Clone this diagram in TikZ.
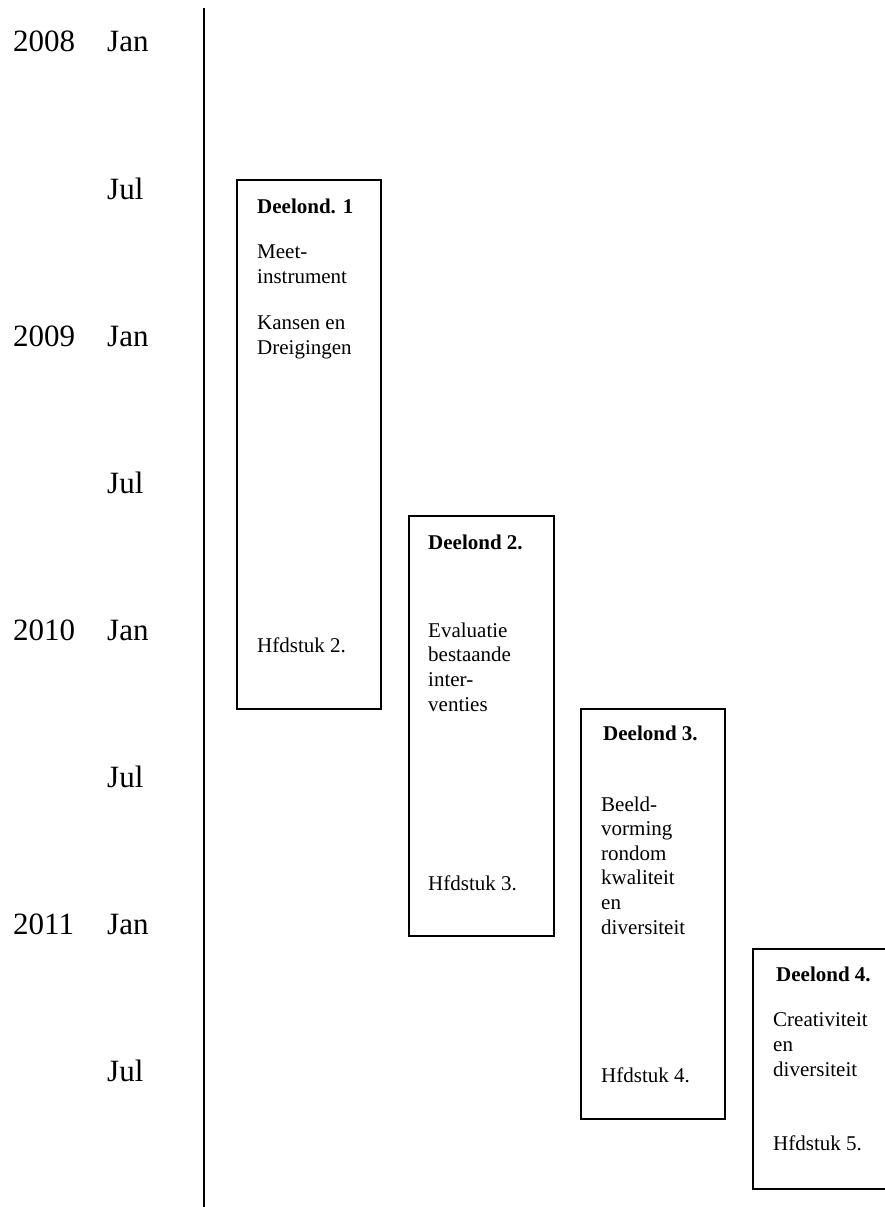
\documentclass[tikz,border=0pt]{standalone}
\usepackage{fontspec}
\setmainfont{Liberation Serif}
\usetikzlibrary{positioning}

\begin{document}
\begin{tikzpicture}[x=1pt, y=-1pt,
    yearlabel/.style={anchor=base west, inner sep=0pt, font=\fontsize{31}{36}\selectfont},
    phasebox/.style={draw, line width=1.7pt, anchor=north west, inner sep=0pt},
    phasetxt/.style={anchor=base west, inner sep=0pt, align=left, font=\fontsize{21}{24.6}\selectfont},
    phasehead/.style={phasetxt, font=\fontsize{21}{24.6}\selectfont\bfseries}]
    \useasboundingbox (0,0) rectangle (885,1207);

    % tijdas
    \coordinate (astop) at (204,8);
    \coordinate (asbot) at (204,1207);
    \draw[line width=1.7pt] (astop) -- (asbot);

    % jaren en maanden
    \foreach \yr/\mo [count=\i from 0] in {2008/Jan, /Jul, 2009/Jan, /Jul, 2010/Jan, /Jul, 2011/Jan, /Jul} {
        \node[yearlabel] (jaar\i) at (13,52+147*\i) {\yr};
        \node[yearlabel] (maand\i) at (107,52+147*\i) {\mo};
    }

    % deelonderzoek 1 (tekstblokken staan op de basislijn van hun laatste regel)
    \node[phasebox, minimum width=144pt, minimum height=529pt] (deel1) at (236,179) {};
    \node[phasehead] (kop1) at (257,213) {Deelond. 1};
    \node[phasetxt] (meet) at (257,283) {Meet-\\instrument};
    \node[phasetxt] (kansen) at (257,354) {Kansen en\\Dreigingen};
    \node[phasetxt] (hfd2) at (257,652) {Hfdstuk 2.};

    % deelonderzoek 2
    \node[phasebox, minimum width=145pt, minimum height=420pt] (deel2) at (408,515) {};
    \node[phasehead] (kop2) at (428,549) {Deelond 2.};
    \node[phasetxt] (evaluatie) at (428,711) {Evaluatie\\bestaande\\inter-\\venties};
    \node[phasetxt] (hfd3) at (428,890) {Hfdstuk 3.};

    % deelonderzoek 3
    \node[phasebox, minimum width=144pt, minimum height=410pt] (deel3) at (580,708) {};
    \node[phasehead] (kop3) at (603,740) {Deelond 3.};
    \node[phasetxt] (beeld) at (601,934) {Beeld-\\vorming\\rondom\\kwaliteit\\en\\diversiteit};
    \node[phasetxt] (hfd4) at (601,1082) {Hfdstuk 4.};

    % deelonderzoek 4
    \node[phasebox, minimum width=145pt, minimum height=240pt] (deel4) at (752,948) {};
    \node[phasehead] (kop4) at (776,981) {Deelond 4.};
    \node[phasetxt] (creat) at (773,1076) {Creativiteit\\en\\diversiteit};
    \node[phasetxt] (hfd5) at (773,1150) {Hfdstuk 5.};
\end{tikzpicture}
\end{document}
